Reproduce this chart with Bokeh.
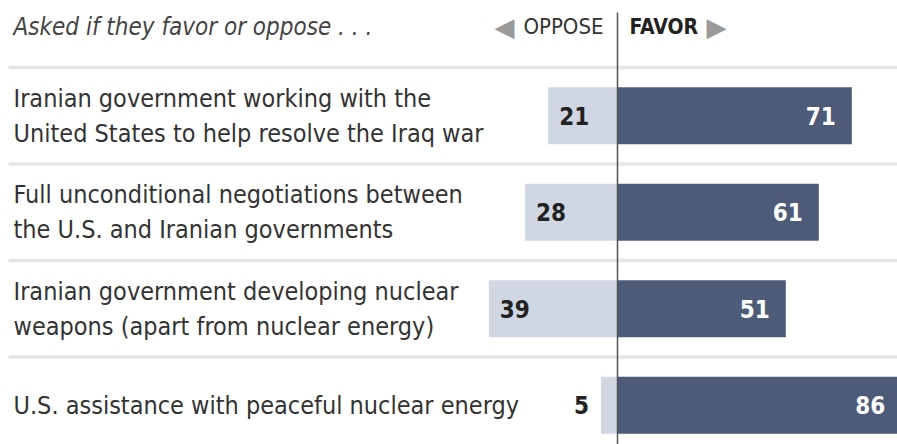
from bokeh.plotting import figure
from bokeh.models import Range1d, ColumnDataSource
from bokeh.core.properties import value
from bokeh.embed import file_html
from bokeh.resources import INLINE

# ---- data ----
question_line1 = [
    "Iranian government working with the",
    "Full unconditional negotiations between",
    "Iranian government developing nuclear",
    "U.S. assistance with peaceful nuclear energy",
]
question_line2 = [
    "United States to help resolve the Iraq war",
    "the U.S. and Iranian governments",
    "weapons (apart from nuclear energy)",
    "",
]
oppose = [21, 28, 39, 5]
favor = [71, 61, 51, 86]
header_text = "Asked if they favor or oppose . . ."
oppose_label = "OPPOSE"
favor_label = "FAVOR"

# ---- styling / layout ----
W, H = 897, 444
PX_PER_UNIT = 3.3
ZERO_PX = 617
ROW_PX = 96.5
ROW0_PX = 115.25
x_start = -ZERO_PX / PX_PER_UNIT
x_end = (W - ZERO_PX) / PX_PER_UNIT
y_top = -ROW0_PX / ROW_PX
y_bottom = (H - ROW0_PX) / ROW_PX

FONT = "DejaVu Sans Condensed"
TEXT_COLOR = "#333333"
FAVOR_COLOR = "#4d5b78"
OPPOSE_COLOR = "#d0d7e2"
SEP_COLOR = "#e6e6e6"

p = figure(width=W, height=H, x_range=Range1d(x_start, x_end),
           y_range=Range1d(y_bottom, y_top), output_backend="svg",
           toolbar_location=None, min_border=0,
           x_axis_location=None, y_axis_location=None)
p.outline_line_color = None
p.xgrid.grid_line_color = None
p.ygrid.grid_line_color = None
p.background_fill_color = "white"

n = len(favor)
rows = list(range(n))

src = ColumnDataSource(dict(
    row=rows,
    oppose_left=[-v for v in oppose],
    favor=favor,
    favor_txt=[str(v) for v in favor],
))

# separators
seps = [r - 0.5 for r in rows]
p.segment(x0=[x_start + 8 / PX_PER_UNIT] * n, x1=[x_end] * n, y0=seps, y1=seps,
          line_color=SEP_COLOR, line_width=3.5)

# bars
p.hbar(y="row", left="oppose_left", right=0, height=0.59, source=src,
       fill_color=OPPOSE_COLOR, line_color=None)
p.hbar(y="row", left=0, right="favor", height=0.59, source=src,
       fill_color=FAVOR_COLOR, line_color=None)

# zero line
p.segment(x0=[0], x1=[0], y0=[y_top + 12 / ROW_PX], y1=[y_bottom],
          line_color="#555555", line_width=1.5)

# favor values (white, right-aligned inside bar)
p.text(x="favor", y="row", text="favor_txt", source=src, x_offset=-16,
       text_align="right", text_baseline="middle", text_color="white",
       text_font=value(FONT), text_font_style="bold",
       text_font_size="24px")

# oppose values
inside = [v >= 10 for v in oppose]
p.text(x=[-v for v, ok in zip(oppose, inside) if ok],
       y=[r for r, ok in zip(rows, inside) if ok],
       text=[str(v) for v, ok in zip(oppose, inside) if ok],
       x_offset=11, text_align="left", text_baseline="middle",
       text_color="#222222", text_font=value(FONT),
       text_font_style="bold", text_font_size="24px")
p.text(x=[-v for v, ok in zip(oppose, inside) if not ok],
       y=[r for r, ok in zip(rows, inside) if not ok],
       text=[str(v) for v, ok in zip(oppose, inside) if not ok],
       x_offset=-12, text_align="right", text_baseline="middle",
       text_color="#222222", text_font=value(FONT),
       text_font_style="bold", text_font_size="24px")

# question labels
two = [bool(l2) for l2 in question_line2]
p.text(x=[x_start] * n, y=rows, text=question_line1,
       x_offset=13, y_offset=[-17.5 if t else 0 for t in two],
       text_align="left", text_baseline="middle", text_color=TEXT_COLOR,
       text_font=value(FONT), text_font_size="25px")
p.text(x=[x_start] * sum(two), y=[r for r, t in zip(rows, two) if t],
       text=[l for l in question_line2 if l],
       x_offset=13, y_offset=17.5,
       text_align="left", text_baseline="middle", text_color=TEXT_COLOR,
       text_font=value(FONT), text_font_size="25px")

# header
hy = y_top + 26 / ROW_PX
p.text(x=[x_start], y=[hy], text=[header_text], x_offset=13,
       text_align="left", text_baseline="middle", text_color="#444444",
       text_font=value(FONT), text_font_style="italic",
       text_font_size="24px")
p.text(x=[0], y=[hy], text=[oppose_label], x_offset=-14,
       text_align="right", text_baseline="middle", text_color=TEXT_COLOR,
       text_font=value(FONT), text_font_size="22px")
p.text(x=[0], y=[hy], text=["\u25C0"], x_offset=-103,
       text_align="right", text_baseline="middle", text_color="#9a9a9a",
       text_font=value("DejaVu Sans"), text_font_size="26px")
p.text(x=[0], y=[hy], text=[favor_label], x_offset=12,
       text_align="left", text_baseline="middle", text_color="#222222",
       text_font=value(FONT), text_font_style="bold",
       text_font_size="21px")
p.text(x=[0], y=[hy], text=["\u25B6"], x_offset=89,
       text_align="left", text_baseline="middle", text_color="#9a9a9a",
       text_font=value("DejaVu Sans"), text_font_size="26px")

open("out.html", "w").write(file_html(p, INLINE))
